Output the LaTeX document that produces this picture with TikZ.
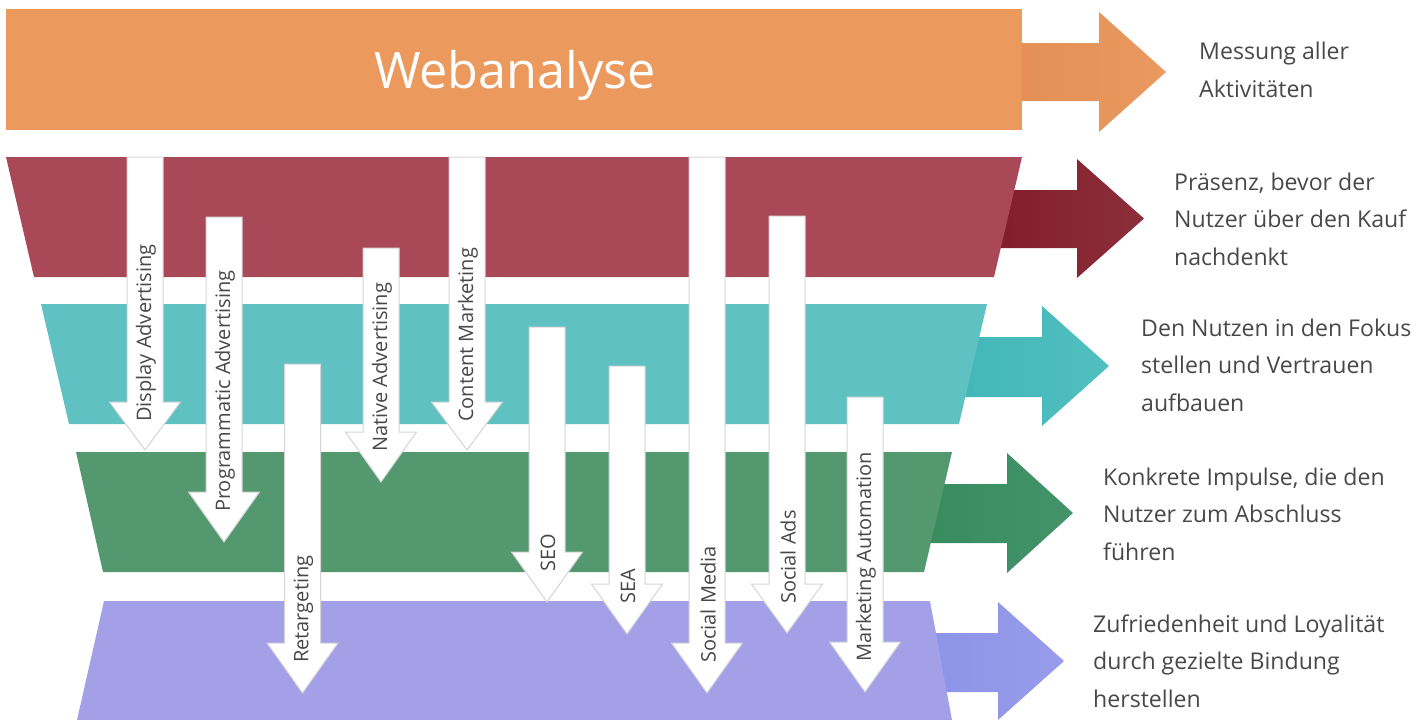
\documentclass[tikz,border=0pt]{standalone}
\usepackage{fontspec}
\setmainfont{Open Sans}
\definecolor{orangeC}{HTML}{EC995D}
\definecolor{redC}{HTML}{A94856}
\definecolor{tealC}{HTML}{5FC1C2}
\definecolor{greenC}{HTML}{53986E}
\definecolor{purpleC}{HTML}{A3A0E8}
\definecolor{orangeA}{HTML}{E38F56}
\definecolor{orangeB}{HTML}{E99A5E}
\definecolor{redA}{HTML}{821D2B}
\definecolor{redB}{HTML}{8C2E3B}
\definecolor{tealA}{HTML}{43B7B8}
\definecolor{tealB}{HTML}{50BFC0}
\definecolor{greenA}{HTML}{378C5F}
\definecolor{greenB}{HTML}{44936A}
\definecolor{purpleA}{HTML}{8B94E8}
\definecolor{purpleB}{HTML}{999BEA}
\definecolor{txt}{HTML}{484848}
\definecolor{edgeC}{HTML}{D4D4D4}
\tikzset{
  warrow/.style={fill=white, draw=edgeC, line width=1pt, line join=miter},
  lbl/.style={rotate=90, inner sep=0pt, text=txt, font=\fontsize{20}{24}\selectfont},
  desc/.style={inner sep=0pt, text=txt, align=left, anchor=base west, font=\fontsize{23.1}{37.3}\selectfont},
}
% fat right arrow: #1,#2 shading colours, #3 x start, #4 body top, #5 body bottom, #6 head base x, #7 head top, #8 head bottom, #9 tip x
\newcommand\rarr[9]{%
  \shade[left color=#1, right color=#2] (#3,#4) -- (#6,#4) -- (#6,#7) -- (#9,{(#7+#8)/2}) -- (#6,#8) -- (#6,#5) -- (#3,#5) -- cycle;}
% white down arrow: #1 name, #2 centre x, #3 top y, #4 head base y, #5 tip y, #6 label
\newcommand\dnarr[6]{%
  \draw[warrow] ({#2-18},#3) -- ({#2+18},#3) -- ({#2+18},#4) -- ({#2+35.5},#4) -- (#2,#5) -- ({#2-35.5},#4) -- ({#2-18},#4) -- cycle;
  \node[lbl, anchor=west] (#1) at ({#2+1},{#4+20}) {#6};}
\begin{document}
\begin{tikzpicture}[x=1pt,y=-1pt]
\useasboundingbox (0,0) rectangle (1428,720);
% side arrows
\rarr{orangeA}{orangeB}{1010}{43}{101}{1099}{12}{132}{1166}
\rarr{redA}{redB}{990}{190}{248}{1077}{159}{278}{1144}
\rarr{tealA}{tealB}{955}{337}{397}{1042}{306}{426}{1109}
\rarr{greenA}{greenB}{920}{484}{543}{1007}{453}{573}{1073}
\rarr{purpleA}{purpleB}{925}{633}{692}{998}{602}{720}{1064}
% top bar
\fill[orangeC] (6,9) rectangle (1022,130);
\node[inner sep=0pt, text=white, font=\fontsize{50.3}{60}\selectfont, anchor=base] (web) at (515,88) {Webanalyse};
% funnel bands
\fill[redC] (6,157) -- (1022,157) -- (994,277) -- (34,277) -- cycle;
\fill[tealC] (41,304) -- (987,304) -- (959,424) -- (69,424) -- cycle;
\fill[greenC] (76,452) -- (952,452) -- (924,572) -- (103,572) -- cycle;
\fill[purpleC] (104,601) -- (930,601) -- (952,720) -- (77,720) -- cycle;
% white arrows
\dnarr{da}{145}{157}{402}{450}{Display Advertising}
\dnarr{pa}{224}{217}{492}{542}{Programmatic Advertising}
\dnarr{rt}{302.5}{364}{643}{693}{Retargeting}
\dnarr{na}{381}{248}{432}{482}{Native Advertising}
\dnarr{cm}{467}{157}{402}{450}{Content Marketing}
\dnarr{seo}{547}{327}{552}{602}{SEO}
\dnarr{sea}{627}{366}{584}{634}{SEA}
\dnarr{sm}{707}{157}{643}{693}{Social Media}
\dnarr{sa}{787}{216}{584}{633}{Social Ads}
\dnarr{ma}{865}{397}{642}{692}{Marketing Automation}
% descriptions (anchored at the baseline of the last line)
\node[desc] (d0) at (1199,97) {Messung aller\\Aktivitäten};
\node[desc] (d1) at (1174,265) {Präsenz, bevor der\\Nutzer über den Kauf\\nachdenkt};
\node[desc] (d2) at (1141,411) {Den Nutzen in den Fokus\\stellen und Vertrauen\\aufbauen};
\node[desc] (d3) at (1103,560) {Konkrete Impulse, die den\\Nutzer zum Abschluss\\führen};
\node[desc] (d4) at (1093,707) {Zufriedenheit und Loyalität\\durch gezielte Bindung\\herstellen};
\end{tikzpicture}
\end{document}
